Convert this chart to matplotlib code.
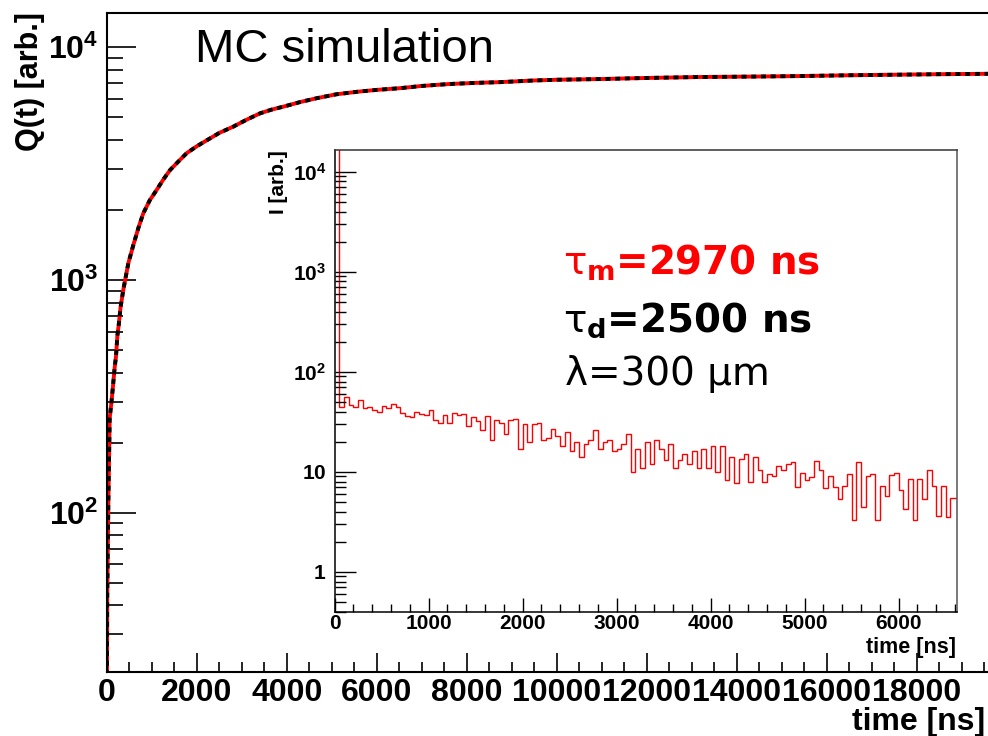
import matplotlib
matplotlib.use("Agg")
import matplotlib.pyplot as plt
import numpy as np
from matplotlib.ticker import MultipleLocator, LogLocator, FixedLocator, NullFormatter, FuncFormatter

plt.rcParams['font.family'] = ['Liberation Sans', 'DejaVu Sans']
# rm -> bold Arial-like digits for the power labels, it/bf -> the tau labels
plt.rcParams['mathtext.fontset'] = 'custom'
plt.rcParams['mathtext.rm'] = 'Liberation Sans:bold'
plt.rcParams['mathtext.it'] = 'DejaVu Sans'
plt.rcParams['mathtext.bf'] = 'DejaVu Sans:bold'

# cumulative charge Q(t), MC simulation
t_q = [0, 5, 30, 60, 100, 130, 170, 200, 230, 260, 300, 360, 420, 475, 585, 700,
       807, 950, 1104, 1250, 1400, 1600, 1770, 2000, 2215, 2500, 2807, 3100, 3400,
       3650, 3918, 4300, 4660, 5100, 5600, 6000, 6510, 7000, 7600, 8200, 8730, 9500,
       10000, 10960, 12000, 13180, 14300, 15400, 16500, 17500, 18500, 19600, 20000]
q_vals = [20, 43, 110, 255, 300, 345, 420, 470, 575, 640, 760, 903, 1040, 1183, 1413, 1680,
          1936, 2200, 2438, 2700, 2966, 3250, 3506, 3760, 3980, 4290, 4560, 4880, 5200,
          5390, 5555, 5820, 6040, 6280, 6450, 6560, 6670, 6820, 6950, 7030, 7080, 7200,
          7250, 7300, 7380, 7450, 7480, 7520, 7580, 7620, 7660, 7690, 7700]

# current I(t), 50 ns bins starting at 0
bin_ns = 50
i_counts = [40000, 44, 56, 47, 45, 52, 43, 44, 42, 40,
            46, 43, 48, 44, 39, 36, 35, 40, 38, 37,
            42, 33, 31, 37, 31, 39, 37, 38, 29, 35,
            32, 26, 36, 21, 33, 31, 24, 33, 34, 17,
            30, 20, 30, 31, 21, 22, 27, 23, 18, 25,
            16, 20, 14, 19, 21, 26, 17, 20, 21, 16,
            17, 19, 24, 10, 17, 11, 20, 12, 21, 17,
            13, 19, 11, 13, 15, 12, 16, 11, 17, 11,
            18, 10, 18, 8.3, 14, 7.8, 13.5, 15, 8, 14,
            10.5, 8, 9.5, 9, 11.5, 10.5, 12, 12.5, 7, 9.8,
            8.2, 8.8, 12.8, 10.5, 6.9, 9, 7, 5.3, 7.2, 9.5,
            3.3, 12.5, 4.5, 9, 9.5, 3.3, 7.2, 5.7, 9.3, 9.8,
            6.6, 4.3, 8.4, 3.3, 8.4, 5.3, 10.5, 7.2, 3.6, 7.2,
            3.5, 5.5, 5.5]

main_xticks = [0, 2000, 4000, 6000, 8000, 10000, 12000, 14000, 16000, 18000]
inset_xticks = [0, 1000, 2000, 3000, 4000, 5000, 6000]


def pow_label(v, pos):
    e = int(round(np.log10(v)))
    if e == 0:
        return r'$\mathrm{1}$'
    if e == 1:
        return r'$\mathrm{10}$'
    return r'$\mathrm{10^{%d}}$' % e


fig = plt.figure(figsize=(9.88, 7.36), dpi=100)

# main plot
ax = fig.add_axes([0.1083, 0.0870, 0.9109, 0.8958])
ax.plot(t_q, q_vals, color='red', lw=2.8, solid_capstyle='butt')
ax.plot(t_q, q_vals, color='black', lw=2.8, linestyle=(0, (1.3, 1.2)))
ax.set_yscale('log')
ax.set_xlim(0, 20000)
ax.set_ylim(20.7, 14080)
ax.spines['right'].set_visible(False)
for s in ['left', 'bottom', 'top']:
    ax.spines[s].set_linewidth(1.5)
ax.xaxis.set_major_locator(FixedLocator(main_xticks))
ax.xaxis.set_minor_locator(MultipleLocator(500))
ax.yaxis.set_major_locator(LogLocator(base=10, numticks=10))
ax.yaxis.set_minor_locator(LogLocator(base=10, subs=range(2, 10), numticks=20))
ax.yaxis.set_major_formatter(FuncFormatter(pow_label))
ax.yaxis.set_minor_formatter(NullFormatter())
ax.tick_params(axis='x', which='major', direction='in', length=14, width=1.2,
               labelsize=23, pad=4)
ax.tick_params(axis='x', which='minor', direction='in', length=7, width=1.2)
ax.tick_params(axis='y', which='major', direction='in', length=21, width=1.2,
               labelsize=23, pad=6)
ax.tick_params(axis='y', which='minor', direction='in', length=11.5, width=1.2)
for lbl in ax.get_xticklabels():
    lbl.set_fontweight('bold')

fig.text(30 / 988, 1 - 12 / 736, 'Q(t) [arb.]', rotation=90, ha='center', va='top',
         fontsize=22, fontweight='bold')
fig.text(985 / 988, 1 - 722 / 736, 'time [ns]', ha='right', va='center',
         fontsize=23, fontweight='bold')
fig.text(195 / 988, 1 - 62 / 736, 'MC simulation', ha='left', va='baseline',
         fontsize=34)

# inset: current
ax2 = fig.add_axes([0.3386, 0.1689, 0.6300, 0.6273])
edges = np.arange(len(i_counts) + 1) * bin_ns
ax2.stairs(i_counts, edges, color='red', lw=1.0, baseline=None)
ax2.set_yscale('log')
ax2.set_xlim(0, 6620)
ax2.set_ylim(0.4, 16500)
for s in ax2.spines.values():
    s.set_linewidth(1.1)
ax2.spines['right'].set_color('#555555')
ax2.spines['top'].set_color('#333333')
ax2.xaxis.set_major_locator(FixedLocator(inset_xticks))
ax2.xaxis.set_minor_locator(MultipleLocator(200))
ax2.yaxis.set_major_locator(LogLocator(base=10, numticks=10))
ax2.yaxis.set_minor_locator(LogLocator(base=10, subs=range(2, 10), numticks=20))
ax2.yaxis.set_major_formatter(FuncFormatter(pow_label))
ax2.yaxis.set_minor_formatter(NullFormatter())
ax2.tick_params(axis='x', which='major', direction='in', length=10, width=1.0,
                labelsize=15, pad=2)
ax2.tick_params(axis='x', which='minor', direction='in', length=6, width=1.0)
ax2.tick_params(axis='y', which='major', direction='in', length=15, width=1.0,
                labelsize=15, pad=6)
ax2.tick_params(axis='y', which='minor', direction='in', length=8, width=1.0)
for lbl in ax2.get_xticklabels():
    lbl.set_fontweight('bold')

fig.text(278 / 988, 1 - 150 / 736, 'I [arb.]', rotation=90, ha='center', va='top',
         fontsize=15, fontweight='bold')
fig.text(956 / 988, 1 - 648 / 736, 'time [ns]', ha='right', va='center',
         fontsize=15.5, fontweight='bold')

# decay constants
fig.text(563 / 988, 1 - 275 / 736, r'$τ_\mathbf{m}$=2970 ns', color='red',
         fontsize=28, fontweight='bold', family='DejaVu Sans', va='baseline')
fig.text(563 / 988, 1 - 332 / 736, r'$τ_\mathbf{d}$=2500 ns', color='black',
         fontsize=28, fontweight='bold', family='DejaVu Sans', va='baseline')
fig.text(565 / 988, 1 - 385 / 736, 'λ=300 μm', color='black',
         fontsize=28, family='DejaVu Sans', va='baseline')

fig.savefig('out.png', dpi=100)
